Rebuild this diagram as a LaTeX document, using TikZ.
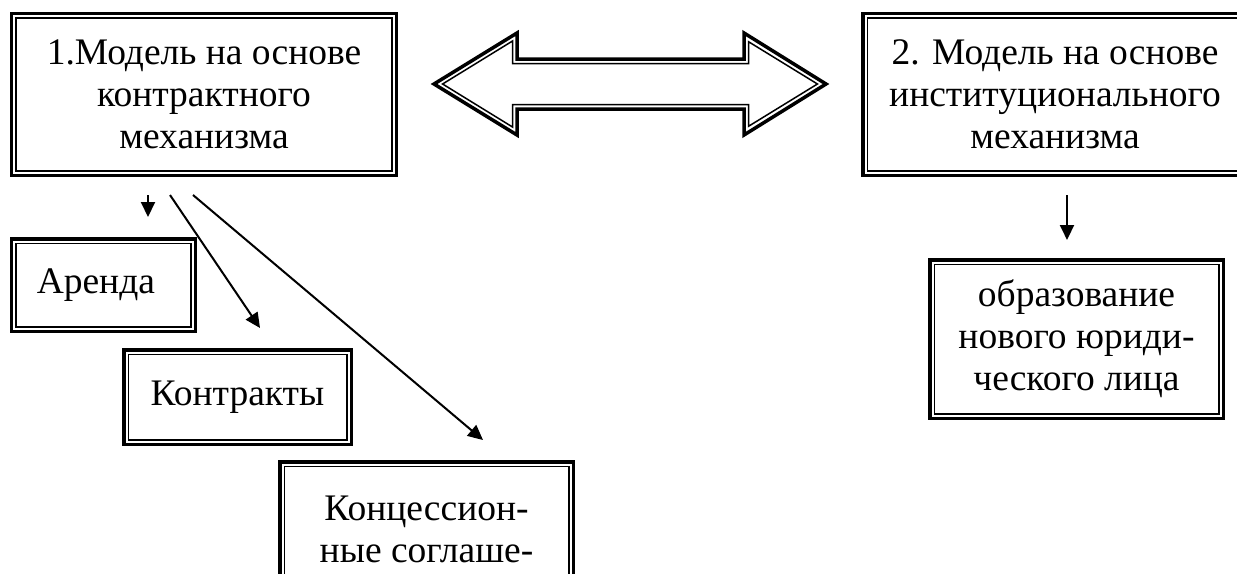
\documentclass[tikz,border=0pt]{standalone}
\usepackage{fontspec}
\setmainfont{Liberation Serif}
\usetikzlibrary{arrows.meta}

\begin{document}
\begin{tikzpicture}[x=0.4pt,y=-0.4pt,
    frame/.style={draw,line width=1.4pt,inner sep=0pt,align=center,
      font=\fontsize{15}{16.8}\selectfont},
    arr/.style={line width=0.8pt,-{Triangle[length=6pt,width=5.6pt]}}]
  \useasboundingbox (0,0) rectangle (1237,573);
  \clip (0,0) rectangle (1237,573);

  % Two models
  \node[frame,minimum width=153.8pt,minimum height=64.6pt] (contract) at (204,94.5)
    {1.Модель на основе\\контрактного\\механизма};
  \node[frame,minimum width=153.8pt,minimum height=64.6pt] (inst) at (1055,94.5)
    {2. Модель на основе\\институционального\\механизма};

  % Forms of the contract model
  \node[frame,minimum width=73.4pt,minimum height=37pt,text width=53.4pt,
    inner xsep=10pt,align=left] (rent) at (103.5,285) {Аренда};
  \node[frame,minimum width=91pt,minimum height=37.8pt] (contr) at (237.5,397) {Контракты};
  \node[frame,minimum width=117.4pt,minimum height=53.8pt] (conc) at (426.5,529)
    {Концессион-\\ные соглаше-};

  % Institutional model
  \node[frame,minimum width=117.4pt,minimum height=63.4pt] (legal) at (1076.5,339)
    {образование\\нового юриди-\\ческого лица};

  % inner thin line of every frame
  \foreach \n in {contract,inst,rent,contr,conc,legal}
    \draw[line width=0.6pt] ([shift={(2.5pt,-2.5pt)}]\n.north west)
      rectangle ([shift={(-2.5pt,2.5pt)}]\n.south east);

  % Double arrow between the models
  \draw[line width=1.4pt] (434,84) -- (517,33) -- (517,59) -- (744,59) -- (744,33)
    -- (826,84) -- (744,135) -- (744,109) -- (517,109) -- (517,135) -- cycle;
  \draw[line width=0.6pt] (442.6,84) -- (512.5,41) -- (512.5,63.5) -- (748.5,63.5)
    -- (748.5,41.7) -- (817.4,84) -- (748.5,126.3) -- (748.5,104.5) -- (512.5,104.5)
    -- (512.5,127) -- cycle;

  % Arrows
  \draw[arr] ([shift={(-56,18)}]contract.south) -- ([shift={(44.5,-20)}]rent.north);
  \draw[arr] ([shift={(-34,18)}]contract.south) -- ([shift={(22.5,-20)}]contr.north);
  \draw[arr] ([shift={(-11,18)}]contract.south) -- ([shift={(56.5,-20)}]conc.north);
  \draw[arr] ([shift={(12,18)}]inst.south) -- ([shift={(-9.5,-18)}]legal.north);
\end{tikzpicture}
\end{document}
